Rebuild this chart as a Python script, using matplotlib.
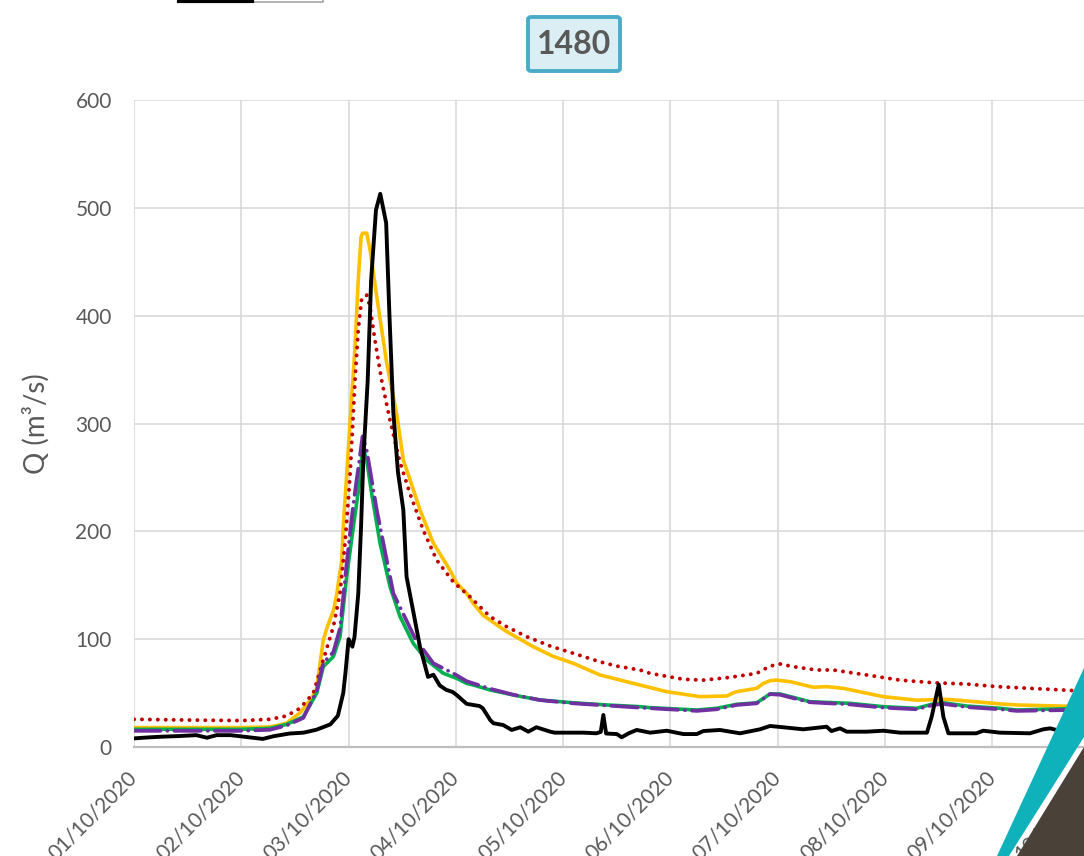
import matplotlib
matplotlib.use('Agg')
import matplotlib.pyplot as plt
from matplotlib.patches import Polygon, FancyBboxPatch
from matplotlib.lines import Line2D

plt.rcParams['font.family'] = ['Lato', 'DejaVu Sans']
plt.rcParams['lines.scale_dashes'] = False

# ---------------- data (days since 01/10/2020) ----------------
date_labels = ['01/10/2020', '02/10/2020', '03/10/2020', '04/10/2020', '05/10/2020',
               '06/10/2020', '07/10/2020', '08/10/2020', '09/10/2020', '10/10/2020']

t_obs = [0.0, 0.15, 0.27, 0.43, 0.58, 0.68, 0.77, 0.9, 1.02, 1.2, 1.3, 1.45, 1.58, 1.7, 1.83,
         1.9, 1.95, 1.97, 2.0, 2.035, 2.055, 2.09, 2.116, 2.137, 2.178, 2.21, 2.255, 2.295,
         2.35, 2.38, 2.417, 2.46, 2.51, 2.54, 2.6, 2.665, 2.74, 2.79, 2.85, 2.91, 2.97, 3.01,
         3.1, 3.22, 3.25, 3.32, 3.35, 3.44, 3.52, 3.6, 3.675, 3.75, 3.88, 3.92, 4.1, 4.19,
         4.31, 4.35, 4.374, 4.4, 4.5, 4.545, 4.61, 4.685, 4.81, 4.965, 5.12, 5.245, 5.306,
         5.46, 5.648, 5.834, 5.927, 6.05, 6.238, 6.455, 6.5, 6.58, 6.642, 6.828, 6.983, 7.14,
         7.294, 7.39, 7.434, 7.5, 7.543, 7.59, 7.85, 7.915, 8.07, 8.35, 8.474, 8.537, 8.66,
         8.85, 9.0]
q_obs = [8, 9, 9.6, 10.2, 11, 8.6, 11, 11, 9.6, 7.5, 10, 12.5, 13.3, 16, 21,
         29, 50, 68, 100, 93, 102, 142, 204, 266, 340, 433, 498, 513,
         486, 402, 310, 255, 220, 158, 127, 93, 65, 67, 57, 53, 51, 48,
         40, 38, 36, 25, 22, 20.4, 15.8, 18.3, 14.2, 18.3, 14.2, 13.3, 13.3, 13.3,
         12.7, 14, 29.7, 12.5, 12, 9, 12.7, 15.8, 13.3, 15.1, 12, 12, 14.8,
         15.8, 12.7, 16.4, 19.5, 18.3, 16.4, 18.8, 14.8, 17.3, 14.2, 14.2, 15.1, 13.3,
         13.3, 13.3, 28, 58, 28, 12.7, 12.7, 15.1, 13.3, 12.7, 16.4, 17.3, 14.2,
         14.2, 14]

t_sim_a = [0.0, 0.5, 1.0, 1.27, 1.42, 1.55, 1.66, 1.7, 1.764, 1.8, 1.86, 1.89, 1.936, 1.95,
           1.982, 2.029, 2.06, 2.09, 2.116, 2.13, 2.169, 2.2, 2.262, 2.355, 2.448, 2.51,
           2.572, 2.665, 2.79, 2.945, 3.007, 3.1, 3.162, 3.255, 3.473, 3.721, 3.908, 4.094,
           4.343, 4.653, 4.965, 5.275, 5.524, 5.58, 5.617, 5.803, 5.865, 5.93, 5.99, 6.114,
           6.331, 6.455, 6.61, 6.983, 7.294, 7.543, 7.605, 8.07, 8.226, 8.847, 9.0]
q_sim_a = [18, 18, 18, 18.6, 22, 32, 46, 53, 99, 111, 127, 142, 173, 204,
           252, 325, 371, 433, 473, 476.5, 476.5, 461, 418, 356, 309, 266,
           248, 220, 189, 164, 152, 142.5, 133, 122, 107, 93, 84, 77.6,
           66.8, 59, 51.3, 46.7, 47.3, 50, 51.3, 54.4, 59, 61.5, 62, 60.6,
           55.4, 56, 54.4, 46.7, 43.4, 44.2, 44, 40, 39, 37.4, 37]

t_sim_b = [0.0, 0.5, 1.0, 1.27, 1.42, 1.547, 1.671, 1.764, 1.858, 1.92, 1.967, 2.013, 2.06,
           2.09, 2.122, 2.169, 2.2, 2.246, 2.308, 2.386, 2.479, 2.572, 2.696, 2.82, 2.976,
           3.131, 3.225, 3.318, 3.473, 3.66, 3.877, 4.094, 4.343, 4.5, 4.716, 4.81, 5.12,
           5.306, 5.555, 5.803, 5.927, 6.02, 6.145, 6.362, 6.517, 6.828, 7.14, 7.449, 7.76,
           8.04, 8.785, 9.0]
q_sim_b = [25.7, 25, 24.5, 25.7, 28.8, 35.9, 49.8, 80.7, 111.6, 142.5, 189, 251, 340,
           387, 416, 419, 408, 377, 340, 303, 264, 235, 201, 173.5, 153,
           139.4, 130, 121, 111.6, 102.3, 93.7, 86.9, 79, 75, 71.4, 68.3, 62.8,
           62, 64.6, 68.3, 75, 77, 74.5, 71.4, 71.4, 66.8, 62, 59.6, 58.4,
           56, 52.2, 51.5]

t_sim_c = [0.0, 1.0, 1.267, 1.423, 1.578, 1.703, 1.764, 1.858, 1.92, 1.982, 2.044, 2.106,
           2.13, 2.169, 2.215, 2.293, 2.386, 2.479, 2.603, 2.727, 2.883, 3.007, 3.1, 3.162,
           3.318, 3.535, 3.784, 4.094, 4.405, 4.716, 4.81, 5.245, 5.431, 5.617, 5.803, 5.88,
           5.927, 6.02, 6.176, 6.3, 6.673, 6.983, 7.294, 7.449, 7.543, 7.76, 8.07, 8.226,
           8.847, 9.0]
q_sim_c = [16.4, 16.4, 17.3, 21, 28, 50, 74.5, 83.8, 102.3, 158, 204, 248,
           278.6, 266, 235, 189, 148.7, 121, 96, 80.7, 68.3, 63.7, 59, 57.5,
           52.9, 48.2, 43.6, 41, 39, 37.4, 36.5, 34.3, 35.9, 39.6, 41, 46,
           49.2, 49.2, 45.2, 42, 40.5, 37.4, 35.9, 40, 41, 38, 35.9, 34.3,
           35.9, 36]

t_sim_d = [0.0, 1.0, 1.267, 1.423, 1.578, 1.703, 1.764, 1.858, 1.92, 1.982, 2.044, 2.106,
           2.13, 2.169, 2.262, 2.417, 2.619, 2.79, 2.976, 3.1, 3.318, 3.535, 3.784, 4.094,
           4.405, 4.716, 5.245, 5.431, 5.617, 5.803, 5.927, 6.02, 6.176, 6.3, 6.673, 6.983,
           7.294, 7.449, 7.543, 7.76, 8.07, 8.226, 8.847, 9.0]
q_sim_d = [15, 15, 16, 20, 27, 52, 78, 88, 110, 170, 225, 270,
           288, 275, 220, 142.5, 100.8, 77.6, 68.3, 61, 54, 48.5, 43.5, 40.5,
           38.5, 36.5, 33.5, 35, 39, 40.5, 49, 48.5, 44.5, 41.5, 39.5, 36.5,
           35, 39, 40, 37, 35, 33.5, 34.5, 35]

y_ticks = [0, 100, 200, 300, 400, 500, 600]
station = '1480'

# ---------------- figure ----------------
W, H = 1084, 856
fig = plt.figure(figsize=(W / 100, H / 100), dpi=100)
fig.patch.set_facecolor('white')

def fx(px):
    return px / W

def fy(py):
    return 1 - py / H

# decorative corner shapes (behind axes)
fig.patches.append(Polygon([[fx(997), fy(856)], [fx(1084), fy(668)], [fx(1084), fy(737)],
                            [fx(1009), fy(856)]], closed=True, transform=fig.transFigure,
                           facecolor='#0FB2BA', edgecolor='none', zorder=0))
fig.patches.append(Polygon([[fx(1017), fy(856)], [fx(1084), fy(747)], [fx(1084), fy(856)]],
                           closed=True, transform=fig.transFigure,
                           facecolor='#4A4239', edgecolor='none', zorder=0))

x0, x9 = 134, 134 + 9 * 107.3
ax = fig.add_axes([fx(x0), fy(747), (x9 - x0) / W, (747 - 100) / H])
ax.set_facecolor('none')

ax.plot(t_sim_a, q_sim_a, color='#FFC000', lw=2.6, solid_joinstyle='round', zorder=3)
ax.plot(t_sim_b, q_sim_b, color='#C00000', lw=2.8, linestyle=(0, (0.1, 5.6)),
        dash_capstyle='round', zorder=4)
ax.plot(t_sim_c, q_sim_c, color='#00B050', lw=2.6, solid_joinstyle='round', zorder=5)
ax.plot(t_sim_d, q_sim_d, color='#7030A0', lw=2.7, linestyle=(0, (19, 5, 0.1, 5)),
        dash_capstyle='round', zorder=6)
ax.plot(t_obs, q_obs, color='black', lw=2.8, solid_joinstyle='round', zorder=7)

ax.set_xlim(0, 9)
ax.set_ylim(0, 600)
ax.set_yticks(y_ticks)
ax.set_xticks(range(len(date_labels)))
ax.set_xticklabels(date_labels, rotation=45, ha='right', va='center',
                   rotation_mode='anchor', fontsize=15, color='#595959')
ax.tick_params(axis='x', length=0, pad=20)
ax.tick_params(axis='y', length=0, pad=16, labelsize=15, labelcolor='#595959')
ax.grid(True, color='#D9D9D9', lw=1.2)
ax.set_axisbelow(True)
for s in ['top', 'right', 'left']:
    ax.spines[s].set_visible(False)
ax.spines['bottom'].set_color('#BFBFBF')
ax.spines['bottom'].set_linewidth(1.6)

ax.set_ylabel('Q (m³/s)', fontsize=20, color='#595959')
ax.yaxis.set_label_coords(fx(50), fy(423.5), transform=fig.transFigure)

# title box
fig.patches.append(FancyBboxPatch((fx(528), fy(71)), fx(620) - fx(528), fy(17) - fy(71),
                                  boxstyle='round,pad=0,rounding_size=0.003',
                                  transform=fig.transFigure, facecolor='#DAEEF3',
                                  edgecolor='#4BACC6', lw=2.8, zorder=10))
fig.text(fx(574), fy(44), station, ha='center', va='center', fontsize=23,
         fontweight='bold', color='#595959', zorder=11)

# partial legend frame at top-left (cropped)
fig.lines.append(Line2D([fx(323), fx(323), fx(179)], [fy(-2), fy(1.5), fy(1.5)],
                        transform=fig.transFigure, color='#A6A6A6', lw=1.2))
fig.lines.append(Line2D([fx(179), fx(252)], [fy(0.8), fy(0.8)],
                        transform=fig.transFigure, color='black', lw=3))

fig.savefig('out.png', dpi=100)
